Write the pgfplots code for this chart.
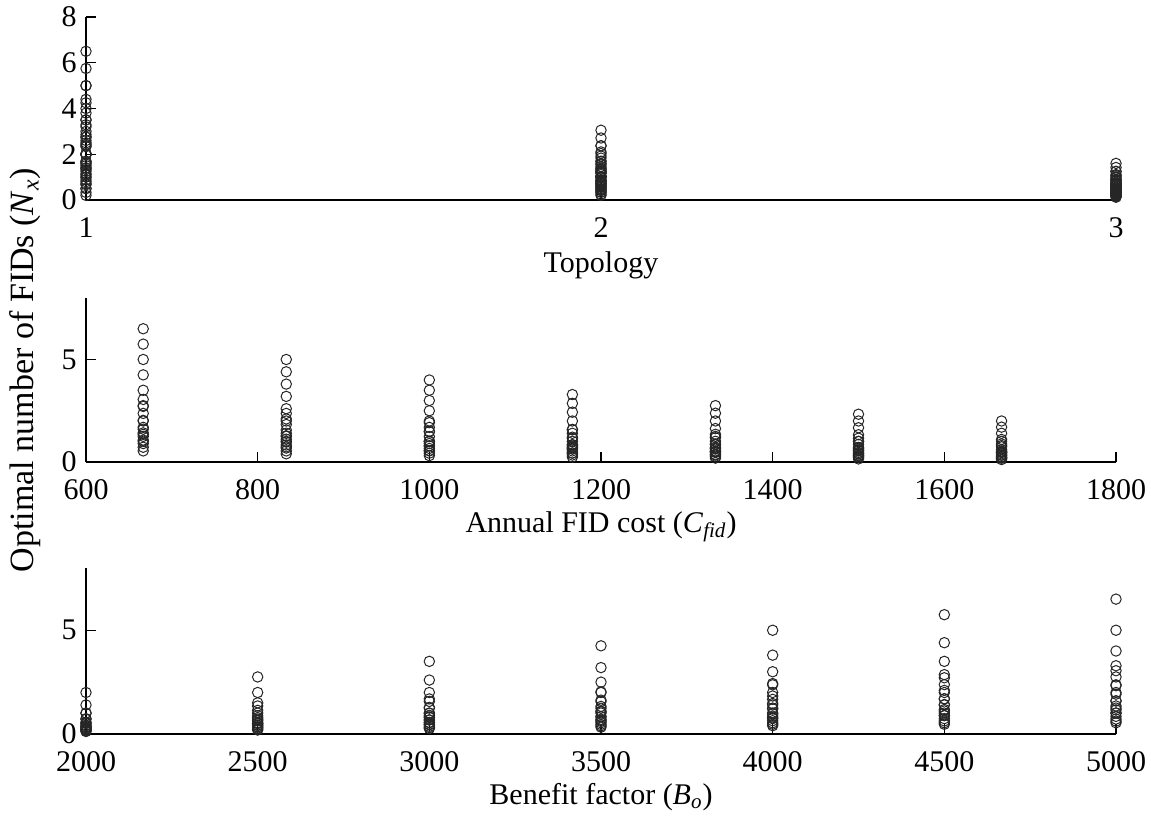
\documentclass[border=0pt]{standalone}
\usepackage{pgfplots}
\pgfplotsset{compat=1.18}
\usepackage{pgfplotstable}
\usepackage{fontspec}
\setmainfont{Liberation Serif}
\pgfplotstableread{
t C B N
1 666.67 2000 2.00
1 666.67 2500 2.75
1 666.67 3000 3.50
1 666.67 3500 4.25
1 666.67 4000 5.00
1 666.67 4500 5.75
1 666.67 5000 6.50
1 833.33 2000 1.40
1 833.33 2500 2.00
1 833.33 3000 2.60
1 833.33 3500 3.20
1 833.33 4000 3.80
1 833.33 4500 4.40
1 833.33 5000 5.00
1 1000 2000 1.00
1 1000 2500 1.50
1 1000 3000 2.00
1 1000 3500 2.50
1 1000 4000 3.00
1 1000 4500 3.50
1 1000 5000 4.00
1 1166.67 2000 0.71
1 1166.67 2500 1.14
1 1166.67 3000 1.57
1 1166.67 3500 2.00
1 1166.67 4000 2.43
1 1166.67 4500 2.86
1 1166.67 5000 3.29
1 1333.33 2000 0.50
1 1333.33 2500 0.88
1 1333.33 3000 1.25
1 1333.33 3500 1.63
1 1333.33 4000 2.00
1 1333.33 4500 2.38
1 1333.33 5000 2.75
1 1500 2000 0.33
1 1500 2500 0.67
1 1500 3000 1.00
1 1500 3500 1.33
1 1500 4000 1.67
1 1500 4500 2.00
1 1500 5000 2.33
1 1666.67 2000 0.20
1 1666.67 2500 0.50
1 1666.67 3000 0.80
1 1666.67 3500 1.10
1 1666.67 4000 1.40
1 1666.67 4500 1.70
1 1666.67 5000 2.00
2 666.67 2000 1.01
2 666.67 2500 1.35
2 666.67 3000 1.69
2 666.67 3500 2.03
2 666.67 4000 2.37
2 666.67 4500 2.71
2 666.67 5000 3.05
2 833.33 2000 0.74
2 833.33 2500 1.01
2 833.33 3000 1.28
2 833.33 3500 1.56
2 833.33 4000 1.83
2 833.33 4500 2.10
2 833.33 5000 2.37
2 1000 2000 0.56
2 1000 2500 0.79
2 1000 3000 1.01
2 1000 3500 1.24
2 1000 4000 1.47
2 1000 4500 1.69
2 1000 5000 1.92
2 1166.67 2000 0.43
2 1166.67 2500 0.63
2 1166.67 3000 0.82
2 1166.67 3500 1.01
2 1166.67 4000 1.21
2 1166.67 4500 1.40
2 1166.67 5000 1.59
2 1333.33 2000 0.34
2 1333.33 2500 0.50
2 1333.33 3000 0.67
2 1333.33 3500 0.84
2 1333.33 4000 1.01
2 1333.33 4500 1.18
2 1333.33 5000 1.35
2 1500 2000 0.26
2 1500 2500 0.41
2 1500 3000 0.56
2 1500 3500 0.71
2 1500 4000 0.86
2 1500 4500 1.01
2 1500 5000 1.16
2 1666.67 2000 0.20
2 1666.67 2500 0.34
2 1666.67 3000 0.47
2 1666.67 3500 0.61
2 1666.67 4000 0.74
2 1666.67 4500 0.88
2 1666.67 5000 1.01
3 666.67 2000 0.54
3 666.67 2500 0.72
3 666.67 3000 0.90
3 666.67 3500 1.07
3 666.67 4000 1.25
3 666.67 4500 1.42
3 666.67 5000 1.60
3 833.33 2000 0.40
3 833.33 2500 0.54
3 833.33 3000 0.68
3 833.33 3500 0.83
3 833.33 4000 0.97
3 833.33 4500 1.11
3 833.33 5000 1.25
3 1000 2000 0.31
3 1000 2500 0.43
3 1000 3000 0.54
3 1000 3500 0.66
3 1000 4000 0.78
3 1000 4500 0.90
3 1000 5000 1.01
3 1166.67 2000 0.24
3 1166.67 2500 0.34
3 1166.67 3000 0.44
3 1166.67 3500 0.54
3 1166.67 4000 0.64
3 1166.67 4500 0.74
3 1166.67 5000 0.85
3 1333.33 2000 0.19
3 1333.33 2500 0.28
3 1333.33 3000 0.37
3 1333.33 3500 0.46
3 1333.33 4000 0.54
3 1333.33 4500 0.63
3 1333.33 5000 0.72
3 1500 2000 0.15
3 1500 2500 0.23
3 1500 3000 0.31
3 1500 3500 0.39
3 1500 4000 0.47
3 1500 4500 0.54
3 1500 5000 0.62
3 1666.67 2000 0.12
3 1666.67 2500 0.19
3 1666.67 3000 0.26
3 1666.67 3500 0.33
3 1666.67 4000 0.40
3 1666.67 4500 0.47
3 1666.67 5000 0.54
}\data
\begin{document}
\begin{tikzpicture}
\useasboundingbox (0pt,0pt) rectangle (575.5pt,409pt);
\pgfplotsset{
  panel/.style={
    anchor=south west, width=515pt, scale only axis,
    axis x line=bottom, axis y line=left,
    axis line style={-, line width=0.6pt, black},
    tick align=inside, major tick length=5pt,
    tick style={line width=0.6pt, black},
    clip=false, ymin=0, ymax=8,
    font=\fontsize{15}{18}\selectfont,
    /pgf/number format/assume math mode=true,
    /pgf/number format/1000 sep={},
    xticklabel style={inner sep=0.5pt, yshift=-8pt},
    yticklabel style={inner sep=0.5pt, xshift=-4pt},
    xlabel style={at={(axis description cs:0.5,0)}, anchor=center, yshift=-32.5pt},
  },
  pts/.style={only marks, mark=o, mark size=2.6pt, black!85, mark options={line width=0.5pt}},
}
\begin{axis}[panel, at={(43pt,309pt)}, height=91.5pt,
  xmin=1, xmax=3, xtick={1,2,3}, ytick={0,2,4,6,8},
  xlabel={Topology}]
\addplot[pts] table[x=t, y=N]{\data};
\end{axis}
\begin{axis}[panel, at={(43pt,178pt)}, height=82pt,
  xmin=600, xmax=1800, xtick={600,800,...,1800}, ytick={0,5},
  xlabel={Annual FID cost (\textit{C}\textsubscript{\textit{fid}})}]
\addplot[pts] table[x=C, y=N]{\data};
\end{axis}
\begin{axis}[panel, at={(43pt,42pt)}, height=83pt,
  xmin=2000, xmax=5000, xtick={2000,2500,...,5000}, ytick={0,5},
  xlabel={Benefit factor (\textit{B}\textsubscript{\textit{o}})},
  xlabel style={yshift=1pt}]
\addplot[pts] table[x=B, y=N]{\data};
\end{axis}
\node[rotate=90, font=\fontsize{17}{20}\selectfont] at (12.5pt,224pt)
  {Optimal number of FIDs (\textit{N}\textsubscript{\textit{x}})};
\end{tikzpicture}
\end{document}
